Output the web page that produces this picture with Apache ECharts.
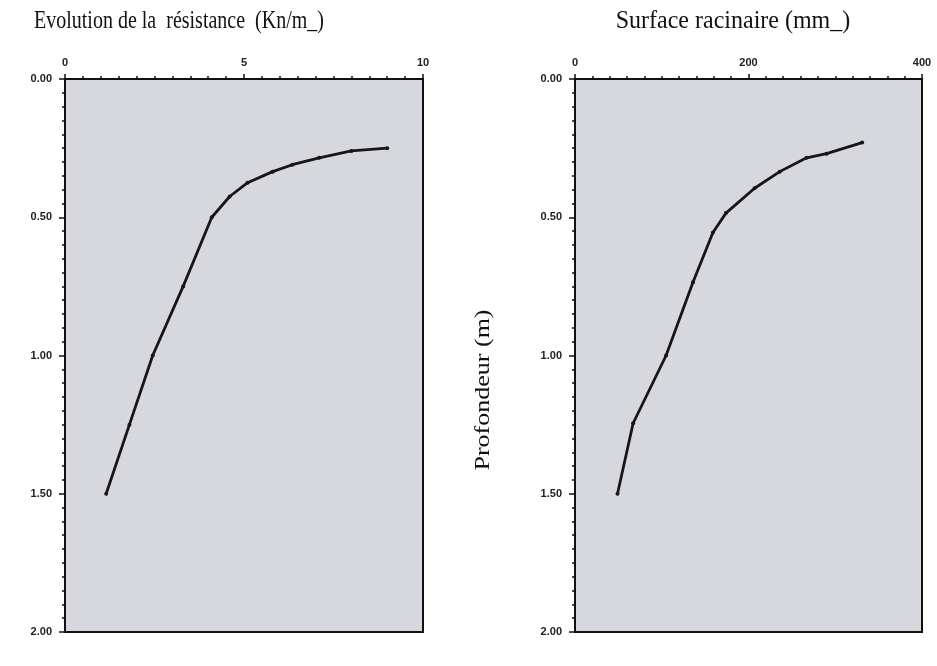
<!DOCTYPE html>
<html>
<head>
<meta charset="utf-8">
<script src="https://cdn.jsdelivr.net/npm/echarts@6/dist/echarts.min.js"></script>
<style>
html,body{margin:0;padding:0;background:#fff;}
#c{width:937px;height:666px;}
</style>
</head>
<body>
<div id="c"></div>
<script>
// Left panel: résistance (Kn/m) vs profondeur (m)
var resistanceValues = [9.0, 8.0, 7.1, 6.35, 5.8, 5.1, 4.6, 4.1, 3.3, 2.45, 1.8, 1.15];
var resistanceDepths = [0.25, 0.26, 0.285, 0.31, 0.335, 0.375, 0.425, 0.5, 0.75, 1.0, 1.25, 1.5];
// Right panel: surface racinaire (mm) vs profondeur (m)
var surfaceValues = [331, 290, 267, 236, 207, 174, 159, 136, 105, 67, 49];
var surfaceDepths = [0.23, 0.27, 0.285, 0.335, 0.395, 0.485, 0.555, 0.735, 1.0, 1.245, 1.5];
// Axis ranges / ticks
var resistanceTicks = [0, 5, 10];
var surfaceTicks = [0, 200, 400];
var depthTicks = [0, 0.5, 1.0, 1.5, 2.0];
var titles = ['Evolution de la  résistance  (Kn/m_)', 'Surface racinaire (mm_)'];
var depthName = 'Profondeur (m)';

function pairs(xs, ys) { return xs.map(function (x, i) { return [x, ys[i]]; }); }

var axisColor = '#111';
var serif = 'Liberation Serif, Times New Roman, serif';
var labelStyle = { fontSize: 11, fontWeight: 'bold', color: '#222', fontFamily: 'Liberation Sans, Arial, sans-serif' };

function xAxisDef(idx, ticks) {
  return {
    gridIndex: idx, type: 'value', position: 'top',
    min: ticks[0], max: ticks[ticks.length - 1], interval: ticks[1] - ticks[0],
    axisLine: { show: true, onZero: false, lineStyle: { color: axisColor, width: 2 } },
    axisTick: { show: true, length: 5, lineStyle: { color: axisColor, width: 1.5 } },
    minorTick: { show: true, splitNumber: 10, length: 3, lineStyle: { color: axisColor, width: 1.5 } },
    splitLine: { show: false },
    axisLabel: Object.assign({ margin: 11 }, labelStyle)
  };
}
function yAxisDef(idx) {
  return {
    gridIndex: idx, type: 'value', inverse: true,
    min: depthTicks[0], max: depthTicks[depthTicks.length - 1], interval: depthTicks[1] - depthTicks[0],
    axisLine: { show: true, onZero: false, lineStyle: { color: axisColor, width: 2 } },
    axisTick: { show: true, length: 6, lineStyle: { color: axisColor, width: 1.5 } },
    minorTick: { show: true, splitNumber: 10, length: 3, lineStyle: { color: axisColor, width: 1.5 } },
    splitLine: { show: false },
    axisLabel: Object.assign({ margin: 13, formatter: function (v) { return v.toFixed(2); } }, labelStyle)
  };
}
function lineSeries(idx, data) {
  return {
    type: 'line', xAxisIndex: idx, yAxisIndex: idx, data: data,
    symbol: 'circle', symbolSize: 4, showSymbol: true,
    lineStyle: { color: '#161616', width: 2.8 },
    itemStyle: { color: '#161616' },
    animation: false
  };
}

var chart = echarts.init(document.getElementById('c'));
chart.setOption({
  backgroundColor: '#ffffff',
  animation: false,
  grid: [
    { left: 65, top: 79, width: 358, height: 553, show: true, backgroundColor: '#d6d8dd', borderColor: '#111', borderWidth: 2 },
    { left: 575, top: 79, width: 347, height: 553, show: true, backgroundColor: '#d6d8dd', borderColor: '#111', borderWidth: 2 }
  ],
  xAxis: [xAxisDef(0, resistanceTicks), xAxisDef(1, surfaceTicks)],
  yAxis: [yAxisDef(0), yAxisDef(1)],
  series: [
    lineSeries(0, pairs(resistanceValues, resistanceDepths)),
    lineSeries(1, pairs(surfaceValues, surfaceDepths))
  ],
  graphic: [
    { type: 'text', x: 179, y: 21, scaleY: 1.3,
      style: { text: titles[0], fontFamily: serif, fontSize: 20, fill: '#111', textAlign: 'center', textVerticalAlign: 'middle' } },
    { type: 'text', x: 733, y: 21, scaleX: 1.2, scaleY: 1.3,
      style: { text: titles[1], fontFamily: serif, fontSize: 20, fill: '#111', textAlign: 'center', textVerticalAlign: 'middle' } },
    { type: 'text', x: 484, y: 390, rotation: Math.PI / 2, scaleX: 1.3,
      style: { text: depthName, fontFamily: serif, fontSize: 20, fill: '#111', textAlign: 'center', textVerticalAlign: 'middle' } }
  ]
});
</script>
</body>
</html>
